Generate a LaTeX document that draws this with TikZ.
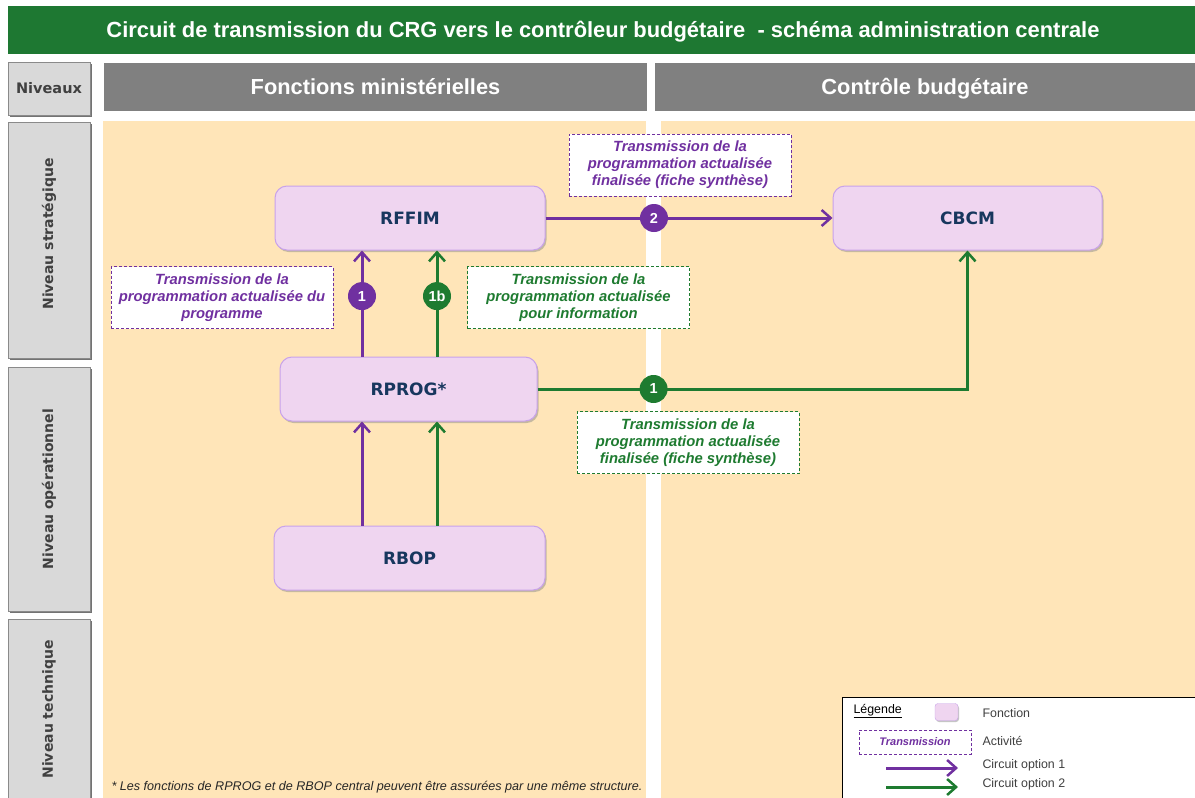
\documentclass[tikz,border=0pt]{standalone}
\usepackage{fontspec}
\setmainfont{Liberation Sans}
\newfontfamily\dejavu{DejaVu Sans}
\usetikzlibrary{arrows.meta,shadows}

\definecolor{titlegreen}{HTML}{1E7832}
\definecolor{headgray}{HTML}{808080}
\definecolor{beige}{HTML}{FFE5B8}
\definecolor{lvlfill}{HTML}{D9D9D9}
\definecolor{lvlline}{HTML}{8A8A8A}
\definecolor{lvltext}{HTML}{404040}
\definecolor{nodefill}{HTML}{EFD5F0}
\definecolor{nodeline}{HTML}{C8A2EA}
\definecolor{navy}{HTML}{17375E}
\definecolor{optpurple}{HTML}{7030A0}
\definecolor{optgreen}{HTML}{1E7B30}
\definecolor{legtext}{HTML}{404040}

\tikzset{
  fnode/.style={draw=nodeline, line width=1pt, fill=nodefill, rounded corners=12pt,
    minimum height=64pt, text=navy, font=\dejavu\bfseries\fontsize{17}{20}\selectfont,
    drop shadow={shadow xshift=1.5pt, shadow yshift=-2pt, fill=black!45, opacity=0.5}},
  lvlbox/.style={draw=lvlline, line width=1pt, fill=lvlfill, minimum width=82pt,
    text=lvltext,
    drop shadow={shadow xshift=2pt, shadow yshift=-2pt, fill=black!55, opacity=1}},
  lvltxt/.style={rotate=90, text=lvltext, font=\dejavu\bfseries\fontsize{14}{16}\selectfont},
  headbox/.style={fill=headgray, text=white, minimum height=48pt,
    text height=20pt, text depth=4.5pt,
    font=\bfseries\fontsize{21.8}{25}\selectfont},
  actbox/.style={draw=#1, fill=white, line width=0.8pt, dash pattern=on 3pt off 2pt,
    minimum width=222pt, minimum height=62pt, align=center, text=#1,
    font=\bfseries\itshape\fontsize{14.8}{17}\selectfont},
  parr/.style={draw=optpurple, line width=3pt,
    -{Straight Barb[length=9pt,width=16pt,line width=2.5pt]}},
  garr/.style={draw=optgreen, line width=3pt,
    -{Straight Barb[length=9pt,width=16pt,line width=2.5pt]}},
  stepnum/.style={circle, fill=#1, text=white, minimum size=28pt, inner sep=0pt,
    font=\bfseries\fontsize{14.5}{16}\selectfont},
  legtxt/.style={anchor=west, text=legtext, font=\fontsize{12.4}{14}\selectfont},
}

\begin{document}
\begin{tikzpicture}[x=1pt,y=-1pt]
\useasboundingbox (0,0) rectangle (1195,798);
\fill[white] (0,0) rectangle (1195,798);

% title bar
\fill[titlegreen] (8,6) rectangle (1195,54);
\node[text=white, text height=20pt, text depth=4.5pt,
  font=\bfseries\fontsize{21.9}{25}\selectfont] (title) at (603,30)
  {Circuit de transmission du CRG vers le contrôleur budgétaire\ \ - schéma administration centrale};

% column headers
\node[headbox, minimum width=543pt] (hfm) at (375.5,87) {Fonctions ministérielles};
\node[headbox, minimum width=540pt] (hcb) at (925,87) {Contrôle budgétaire};

% background areas
\fill[beige] (103,121) rectangle (646,798);
\fill[beige] (661,121) rectangle (1195,798);

% level labels
\node[lvlbox, minimum height=53pt, font=\dejavu\bfseries\fontsize{14.5}{16}\selectfont]
  (lniv) at (49,88.5) {Niveaux};
\node[lvlbox, minimum height=236pt] (lstr) at (49,240) {};
\node[lvltxt] (tstr) at ([yshift=6pt]lstr.center) {Niveau stratégique};
\node[lvlbox, minimum height=244pt] (lope) at (49,489) {};
\node[lvltxt] (tope) at (lope.center) {Niveau opérationnel};
\node[lvlbox, minimum height=185pt] (ltec) at (49,711.5) {};
\node[lvltxt] (ttec) at ([yshift=2pt]ltec.center) {Niveau technique};

% functions
\node[fnode, minimum width=270pt] (rffim) at (410,218) {RFFIM};
\node[fnode, minimum width=269pt] (cbcm) at (967.5,218) {CBCM};
\node[fnode, minimum width=257pt] (rprog) at (408.5,389) {RPROG*};
\node[fnode, minimum width=271pt] (rbop) at (409.5,558) {RBOP};

% vertical tracks
\coordinate (px) at (362,0);
\coordinate (gx) at (437,0);

% circuits
\draw[parr] (rbop.north -| px) -- (rprog.south -| px);
\draw[garr] (rbop.north -| gx) -- (rprog.south -| gx);
\draw[parr] (rprog.north -| px) -- node[pos=0.57, stepnum=optpurple] (n1) {1} (rffim.south -| px);
\draw[garr] (rprog.north -| gx) -- node[pos=0.57, stepnum=optgreen] (n1b) {1b} (rffim.south -| gx);
\draw[parr] (rffim.east) -- node[pos=0.378, stepnum=optpurple] (n2) {2} (cbcm.west);
\draw[garr] (rprog.east) -| node[pos=0.135, stepnum=optgreen] (n1g) {1} (cbcm.south);

% activities
\node[actbox=optpurple] (a1) at (680,165)
  {Transmission de la\\programmation actualisée\\finalisée (fiche synthèse)};
\node[actbox=optpurple] (a2) at (222,297.5)
  {Transmission de la\\programmation actualisée du\\programme};
\node[actbox=optgreen] (a3) at (578.5,297.5)
  {Transmission de la\\programmation actualisée\\pour information};
\node[actbox=optgreen] (a4) at (688,442.5)
  {Transmission de la\\programmation actualisée\\finalisée (fiche synthèse)};

% footnote
\node[anchor=west, text=black!85, font=\itshape\fontsize{12.6}{15}\selectfont] (foot) at (108,787)
  {* Les fonctions de RPROG et de RBOP central peuvent être assurées par une même structure.};

% legend
\draw[black, line width=0.8pt, fill=white] (842,697) rectangle (1200,805);
\node[anchor=west, text=black, font=\fontsize{12.4}{14}\selectfont] (lg) at (850,711) {\underline{Légende}};
\node[draw=nodeline, fill=nodefill, rounded corners=3pt, minimum width=23pt, minimum height=17pt,
  inner sep=0pt, drop shadow={shadow xshift=1pt, shadow yshift=-1.5pt, fill=black!45, opacity=0.5}]
  (lgf) at (946.5,712) {};
\node[legtxt] (lgft) at (979,713) {Fonction};
\node[draw=optpurple, fill=white, line width=0.8pt, dash pattern=on 3pt off 2pt,
  minimum width=112pt, minimum height=24pt, text=optpurple,
  font=\bfseries\itshape\fontsize{11}{13}\selectfont] (lga) at (915,742) {Transmission};
\node[legtxt] (lgat) at (979,741) {Activité};
\coordinate (lp1) at (886,768);
\coordinate (lp2) at (958,768);
\coordinate (lg1) at (886,787);
\coordinate (lg2) at (958,787);
\draw[parr] (lp1) -- (lp2);
\draw[garr] (lg1) -- (lg2);
\node[legtxt] (lgpt) at (979,765.5) {Circuit option 1};
\node[legtxt] (lggt) at (979,784.5) {Circuit option 2};
\end{tikzpicture}
\end{document}
